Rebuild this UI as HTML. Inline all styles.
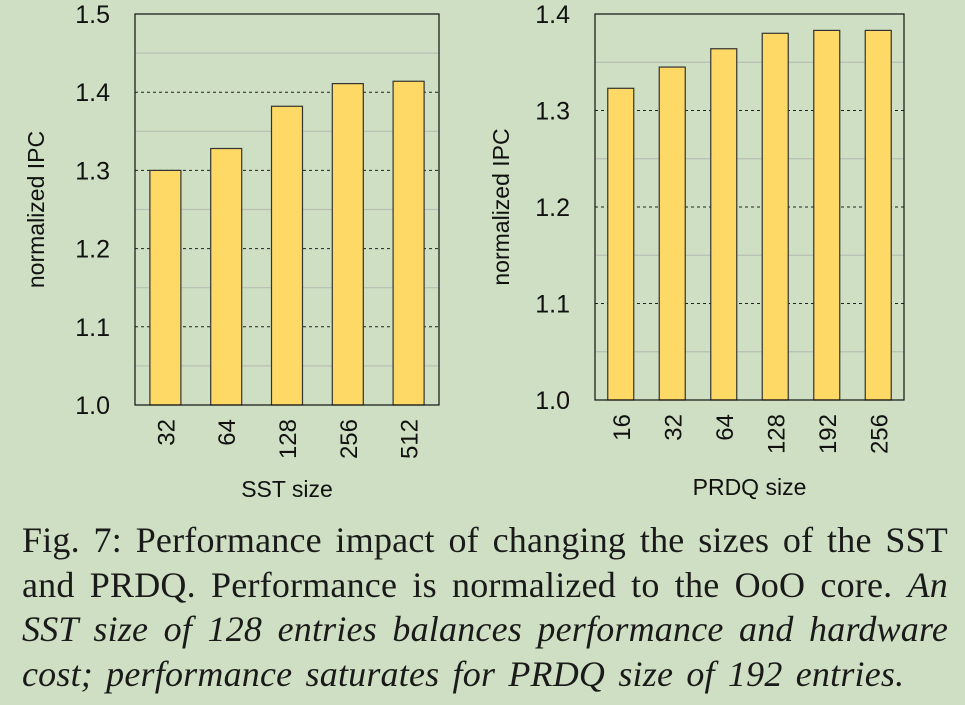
<!DOCTYPE html>
<html><head><meta charset="utf-8"><style>
body{margin:0;background:#cfdfc3;width:965px;height:705px;overflow:hidden}
svg{position:absolute;left:0;top:0}
.cap{position:absolute;left:22px;top:518px;width:926px;font-family:"Liberation Serif",serif;font-size:36px;letter-spacing:0.2px;line-height:44.5px;color:#1a1a1a}
.ln{display:block;text-align:justify;text-align-last:justify;height:44.5px;white-space:normal}
.last{text-align-last:left;word-spacing:4px}
</style></head><body>
<svg id="s" width="965" height="520" font-family="Liberation Sans, sans-serif"></svg>
<div class="cap"><span class="ln">Fig. 7: Performance impact of changing the sizes of the SST</span><span class="ln">and PRDQ. Performance is normalized to the OoO core. <i>An</i></span><span class="ln"><i>SST size of 128 entries balances performance and hardware</i></span><span class="ln last"><i>cost; performance saturates for PRDQ size of 192 entries.</i></span></div>
<script>
const sstCats=["32","64","128","256","512"];
const sstVals=[1.30,1.328,1.382,1.411,1.414];
const sstTicks=[1.0,1.1,1.2,1.3,1.4,1.5];
const prdqCats=["16","32","64","128","192","256"];
const prdqVals=[1.323,1.345,1.364,1.380,1.383,1.383];
const prdqTicks=[1.0,1.1,1.2,1.3,1.4];
const s=document.getElementById('s');
const NS="http://www.w3.org/2000/svg";
function mk(t,a){const e=document.createElementNS(NS,t);for(const k in a)e.setAttribute(k,a[k]);s.appendChild(e);return e;}
function chart(id,cats,vals,ticks,x0,x1,y0,y1,barW,xlab,ylabX,xlabY){
  const vmin=ticks[0],vmax=ticks[ticks.length-1];
  const Y=v=>y1-(v-vmin)/(vmax-vmin)*(y1-y0);
  const step=(x1-x0)/cats.length;
  const X=i=>x0+step*(i+0.5);
  for(let i=0;i<ticks.length-1;i++){
    const m=mk('line',{x1:x0,x2:x1,y1:Y((ticks[i]+ticks[i+1])/2),y2:Y((ticks[i]+ticks[i+1])/2),stroke:'#b8bfb4','stroke-width':1.2});
    
  }
  ticks.forEach(t=>{
    if(t>vmin){const g=mk('line',{x1:x0,x2:x1,y1:Y(t),y2:Y(t),stroke:'#222','stroke-width':1,'stroke-dasharray':'3,3'});
    }
    const l=mk('text',{x:x0-25,y:Y(t)+9,'text-anchor':'end','font-size':25,fill:'#111'});l.textContent=t.toFixed(1);
    
  });
  vals.forEach((v,i)=>{
    const r=mk('rect',{x:X(i)-barW/2,y:Y(v),width:barW,height:y1-Y(v),fill:'#ffd966',stroke:'#333','stroke-width':1.2});
    
    const t=mk('text',{x:0,y:0,'font-size':24,fill:'#111','text-anchor':'end',transform:`translate(${X(i)+9},${y1+14}) rotate(-90)`});t.textContent=cats[i];
    
  });
  const f=mk('rect',{x:x0,y:y0,width:x1-x0,height:y1-y0,fill:'none',stroke:'#111','stroke-width':1.2});
  
  const xt=mk('text',{x:(x0+x1)/2,y:xlabY,'text-anchor':'middle','font-size':23,fill:'#111'});xt.textContent=xlab;
  
  const yt=mk('text',{x:0,y:0,'text-anchor':'middle','font-size':23,fill:'#111',transform:`translate(${ylabX},${(y0+y1)/2}) rotate(-90)`});yt.textContent='normalized IPC';
  
}
chart('sst',sstCats,sstVals,sstTicks,135,439,14,405,31,'SST size',44,497);
chart('prdq',prdqCats,prdqVals,prdqTicks,595,904,14,400,26,'PRDQ size',509,495);
</script>
</body></html>
